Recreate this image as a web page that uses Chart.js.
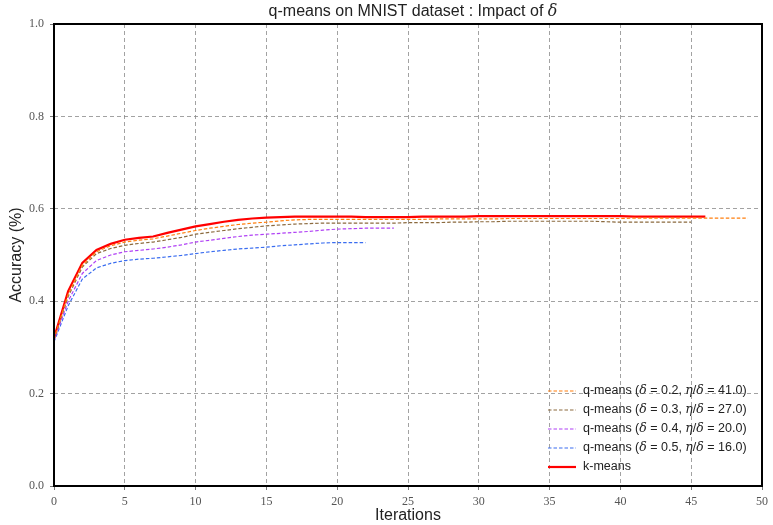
<!DOCTYPE html>
<html>
<head>
<meta charset="utf-8">
<script src="https://cdn.jsdelivr.net/npm/chart.js@4.4.1/dist/chart.umd.min.js"></script>
<style>
  html, body { margin: 0; padding: 0; background: #fff; }
  #wrap { width: 773px; height: 525px; }
</style>
</head>
<body>
<div id="wrap"><canvas id="c" width="773" height="525"></canvas></div>
<script>
// Accuracy per iteration for each run
const kmeans = [0.320, 0.422, 0.483, 0.511, 0.524, 0.533, 0.537, 0.540, 0.548, 0.555,
  0.562, 0.567, 0.572, 0.576, 0.579, 0.581, 0.582, 0.583, 0.583, 0.583,
  0.583, 0.583, 0.582, 0.582, 0.582, 0.582, 0.583, 0.583, 0.583, 0.583,
  0.584, 0.584, 0.584, 0.584, 0.584, 0.584, 0.584, 0.584, 0.584, 0.584,
  0.584, 0.583, 0.583, 0.583, 0.583, 0.583, 0.583];
const qDelta02 = [0.318, 0.415, 0.478, 0.507, 0.520, 0.528, 0.532, 0.535, 0.541, 0.547,
  0.553, 0.558, 0.562, 0.566, 0.569, 0.571, 0.574, 0.576, 0.577, 0.577,
  0.577, 0.577, 0.577, 0.577, 0.577, 0.577, 0.577, 0.578, 0.578, 0.578,
  0.578, 0.578, 0.579, 0.579, 0.579, 0.579, 0.579, 0.579, 0.579, 0.579,
  0.579, 0.580, 0.580, 0.580, 0.580, 0.580, 0.580, 0.580, 0.580, 0.580];
const qDelta03 = [0.317, 0.410, 0.474, 0.503, 0.514, 0.521, 0.525, 0.528, 0.533, 0.538,
  0.545, 0.549, 0.553, 0.557, 0.560, 0.563, 0.565, 0.567, 0.568, 0.569,
  0.569, 0.569, 0.569, 0.569, 0.569, 0.570, 0.570, 0.570, 0.571, 0.571,
  0.572, 0.572, 0.573, 0.573, 0.573, 0.573, 0.573, 0.573, 0.573, 0.572,
  0.571, 0.571, 0.571, 0.571, 0.571, 0.571];
const qDelta04 = [0.315, 0.400, 0.460, 0.488, 0.500, 0.507, 0.510, 0.513, 0.517, 0.522,
  0.528, 0.532, 0.536, 0.540, 0.543, 0.545, 0.547, 0.549, 0.551, 0.554,
  0.556, 0.557, 0.558, 0.558, 0.558];
const qDelta05 = [0.312, 0.390, 0.448, 0.472, 0.482, 0.488, 0.491, 0.493, 0.496, 0.499,
  0.503, 0.507, 0.510, 0.513, 0.515, 0.517, 0.520, 0.522, 0.524, 0.526,
  0.527, 0.527, 0.527];

const seriesNames = [
  { delta: '0.2', ratio: '41.0' },
  { delta: '0.3', ratio: '27.0' },
  { delta: '0.4', ratio: '20.0' },
  { delta: '0.5', ratio: '16.0' }
];
const xTicks = [0, 5, 10, 15, 20, 25, 30, 35, 40, 45, 50];
const yTicks = [0.0, 0.2, 0.4, 0.6, 0.8, 1.0];

const toPoints = arr => arr.map((v, i) => ({ x: i, y: v }));

const SANS = '"Liberation Sans", Arial, sans-serif';
const SERIF = '"DejaVu Serif", "Liberation Serif", serif';
const TICKFONT = '"Liberation Serif", serif';

const dashed = (data, color, label) => ({
  label, data: toPoints(data), borderColor: color, backgroundColor: color,
  borderWidth: 1.2, borderDash: [3.5, 2], pointRadius: 0, tension: 0, fill: false
});

const datasets = [
  dashed(qDelta02, '#ff7f0e', 'q-means 0.2'),
  dashed(qDelta03, '#8b6a3e', 'q-means 0.3'),
  dashed(qDelta04, '#b040f5', 'q-means 0.4'),
  dashed(qDelta05, '#3a6df0', 'q-means 0.5'),
  { label: 'k-means', data: toPoints(kmeans), borderColor: '#ff0000', backgroundColor: '#ff0000',
    borderWidth: 2.2, pointRadius: 0, tension: 0, fill: false }
];

// draws a run of text segments with mixed fonts
function drawRich(ctx, segs, x, y, align) {
  let total = 0;
  segs.forEach(s => { ctx.font = s.f; total += ctx.measureText(s.t).width; });
  let cx = align === 'center' ? x - total / 2 : x;
  ctx.textAlign = 'left';
  segs.forEach(s => {
    ctx.font = s.f;
    ctx.fillText(s.t, cx, y);
    cx += ctx.measureText(s.t).width;
  });
}

const decorations = {
  id: 'decorations',
  afterDraw(chart) {
    const { ctx, chartArea: a } = chart;
    ctx.save();
    // frame
    ctx.strokeStyle = '#000';
    ctx.lineWidth = 2;
    ctx.setLineDash([]);
    ctx.strokeRect(a.left, a.top, a.right - a.left, a.bottom - a.top);

    ctx.fillStyle = '#222';
    ctx.textBaseline = 'middle';
    // title
    const tf = '16px ' + SANS;
    const tfi = 'italic 16px ' + SERIF;
    drawRich(ctx, [
      { t: 'q-means on MNIST dataset : Impact of ', f: tf },
      { t: 'δ', f: tfi }
    ], (a.left + a.right) / 2 + 5, 12, 'center');

    // axis titles
    ctx.font = '16px ' + SANS;
    ctx.textAlign = 'center';
    ctx.fillText('Iterations', (a.left + a.right) / 2, 516);
    ctx.save();
    ctx.translate(17, (a.top + a.bottom) / 2);
    ctx.rotate(-Math.PI / 2);
    ctx.fillText('Accuracy (%)', 0, 0);
    ctx.restore();

    // legend
    const lx = 548, ly0 = 391, dy = 19;
    const f = '12.5px ' + SANS;
    const fi = 'italic 12.5px ' + SERIF;
    const rows = seriesNames.map((s, i) => ({ ds: datasets[i], s }));
    rows.forEach((r, i) => {
      const y = ly0 + i * dy;
      ctx.strokeStyle = r.ds.borderColor;
      ctx.lineWidth = r.ds.borderWidth;
      ctx.setLineDash(r.ds.borderDash);
      ctx.beginPath(); ctx.moveTo(lx, y); ctx.lineTo(lx + 28, y); ctx.stroke();
      ctx.setLineDash([]);
      ctx.fillStyle = '#222';
      drawRich(ctx, [
        { t: 'q-means (', f },
        { t: 'δ', f: fi },
        { t: ' = ', f },
        { t: r.s.delta + ', ', f },
        { t: 'η', f: fi },
        { t: '/', f },
        { t: 'δ', f: fi },
        { t: ' = ', f },
        { t: r.s.ratio + ')', f }
      ], lx + 35, y, 'left');
    });
    const ky = ly0 + 4 * dy;
    const k = datasets[4];
    ctx.strokeStyle = k.borderColor;
    ctx.lineWidth = k.borderWidth;
    ctx.beginPath(); ctx.moveTo(lx, ky); ctx.lineTo(lx + 28, ky); ctx.stroke();
    ctx.fillStyle = '#222';
    ctx.font = f;
    ctx.textAlign = 'left';
    ctx.fillText('k-means', lx + 35, ky);
    ctx.restore();
  }
};

const gridStyle = { color: '#8a8a8a', lineWidth: 0.8, tickLength: 4, tickColor: '#555', tickBorderDash: [] };

new Chart(document.getElementById('c'), {
  type: 'line',
  data: { datasets },
  options: {
    responsive: false,
    animation: false,
    layout: { padding: { top: 24, right: 10, left: 0, bottom: 0 } },
    plugins: { legend: { display: false }, title: { display: false }, tooltip: { enabled: false } },
    scales: {
      x: {
        type: 'linear', min: 0, max: 50,
        afterBuildTicks: s => { s.ticks = xTicks.map(v => ({ value: v })); },
        afterFit: s => { s.height = 39; },
        grid: gridStyle,
        border: { display: false, dash: [4, 3] },
        ticks: { color: '#555', font: { family: TICKFONT, size: 12 }, padding: 5, maxRotation: 0,
          callback: v => String(v) }
      },
      y: {
        type: 'linear', min: 0, max: 1,
        afterBuildTicks: s => { s.ticks = yTicks.map(v => ({ value: v })); },
        afterFit: s => { s.width = 54; },
        grid: gridStyle,
        border: { display: false, dash: [4, 3] },
        ticks: { color: '#555', font: { family: TICKFONT, size: 12 }, padding: 6,
          callback: v => Number(v).toFixed(1) }
      }
    }
  },
  plugins: [decorations]
});
</script>
</body>
</html>
